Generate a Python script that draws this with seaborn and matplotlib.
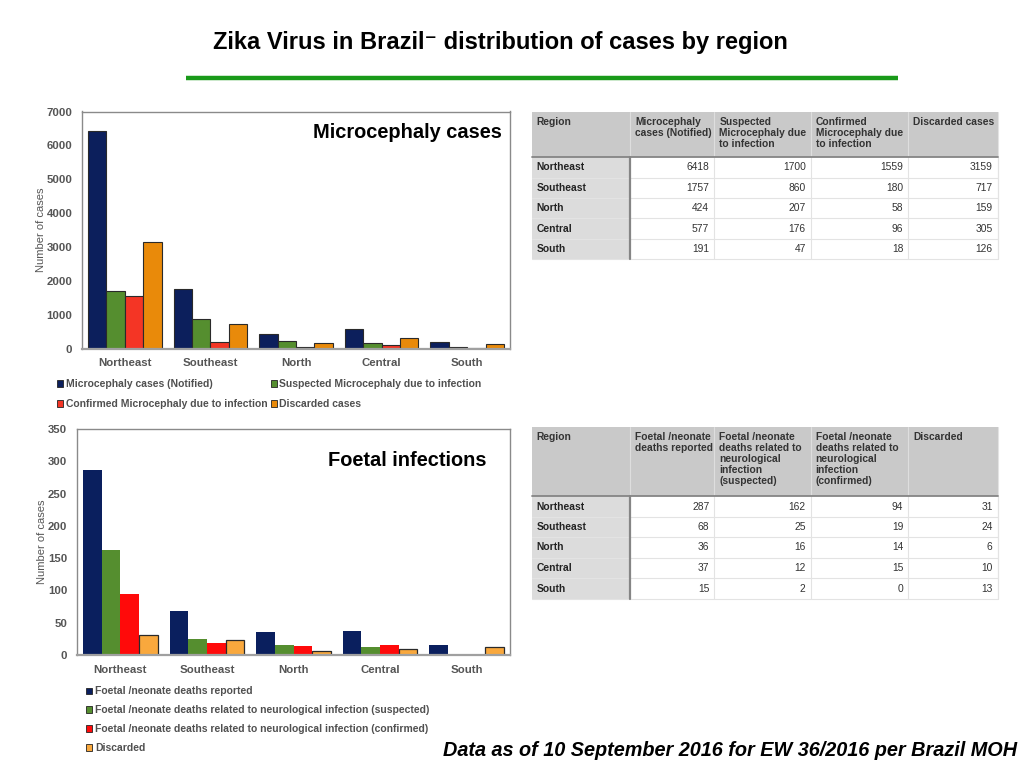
import matplotlib
matplotlib.use('Agg')
import numpy as np
import pandas as pd
import seaborn as sns
import matplotlib.pyplot as plt
from matplotlib.patches import Patch, Rectangle
from matplotlib import font_manager as fm

# ---------------- data ----------------
regions = ['Northeast', 'Southeast', 'North', 'Central', 'South']

micro_series = ['Microcephaly cases (Notified)',
                'Suspected Microcephaly due to infection',
                'Confirmed Microcephaly due to infection',
                'Discarded cases']
micro_notified = [6418, 1757, 424, 577, 191]
micro_suspected = [1700, 860, 207, 176, 47]
micro_confirmed = [1559, 180, 58, 96, 18]
micro_discarded = [3159, 717, 159, 305, 126]

foetal_series = ['Foetal /neonate deaths reported',
                 'Foetal /neonate deaths related to neurological infection (suspected)',
                 'Foetal /neonate deaths related to neurological infection (confirmed)',
                 'Discarded']
foetal_reported = [287, 68, 36, 37, 15]
foetal_suspected = [162, 25, 16, 12, 2]
foetal_confirmed = [94, 19, 14, 15, 0]
foetal_discarded = [31, 24, 6, 10, 13]

micro_headers = ['Region', 'Microcephaly\ncases (Notified)', 'Suspected\nMicrocephaly due\nto infection',
                 'Confirmed\nMicrocephaly due\nto infection', 'Discarded cases']
foetal_headers = ['Region', 'Foetal /neonate\ndeaths reported',
                  'Foetal /neonate\ndeaths related to\nneurological\ninfection\n(suspected)',
                  'Foetal /neonate\ndeaths related to\nneurological\ninfection\n(confirmed)',
                  'Discarded']

micro_colors = ['#0c1f5c', '#558e2f', '#f43525', '#e98a0a']
foetal_colors = ['#0a1f5e', '#558e2f', '#ff0a0a', '#f9a83d']

title_text = 'Zika Virus in Brazil\u207b distribution of cases by region'
footer_text = 'Data as of 10 September 2016 for EW 36/2016 per Brazil MOH'

# ---------------- style ----------------
sns.set_style('white')
plt.rcParams['font.family'] = ['Liberation Sans', 'DejaVu Sans']

def has_font(name):
    try:
        path = fm.findfont(fm.FontProperties(family=name), fallback_to_default=False)
        return 'arrow' in path.lower()
    except Exception:
        return False

narrow = has_font('Liberation Sans Narrow')

W, H = 1024, 768
fig = plt.figure(figsize=(W / 100, H / 100), dpi=100)
fig.patch.set_facecolor('white')

def px_rect(l, t, r, b):
    return [l / W, 1 - b / H, (r - l) / W, (b - t) / H]

def long_df(series, cols):
    rows = []
    for s, vals in zip(series, cols):
        for reg, v in zip(regions, vals):
            rows.append({'Region': reg, 'Series': s, 'Cases': v})
    return pd.DataFrame(rows)

TICK_C = '#555555'

def bar_chart(rect, df, series, colors, ymax, ystep, edge_idx, edge_lw, ylabel_x):
    ax = fig.add_axes(px_rect(*rect))
    sns.barplot(data=df, x='Region', y='Cases', hue='Series', order=regions,
                hue_order=series, palette=colors, width=0.86, gap=0,
                saturation=1, errorbar=None, legend=False, ax=ax)
    for i, cont in enumerate(ax.containers):
        for bar in cont:
            if i in edge_idx:
                bar.set_edgecolor('#2a2a2a')
                bar.set_linewidth(edge_lw)
            else:
                bar.set_linewidth(0)
    ax.set_xlim(-0.5, 4.5)
    ax.set_ylim(0, ymax)
    ax.set_yticks(np.arange(0, ymax + 1, ystep))
    ax.set_xlabel('')
    ax.set_ylabel('Number of cases', fontsize=8, color='#555555')
    ax.yaxis.set_label_coords(ylabel_x, 0.5)
    ax.tick_params(axis='both', length=0, colors=TICK_C, labelsize=8.2)
    ax.tick_params(axis='y', pad=7)
    ax.tick_params(axis='x', pad=7)
    for lab in ax.get_xticklabels() + ax.get_yticklabels():
        lab.set_fontweight('bold')
    for sp in ax.spines.values():
        sp.set_color('#8a8a8a')
        sp.set_linewidth(1.0)
    ax.spines['bottom'].set_color('#a0a0a0')
    ax.spines['bottom'].set_linewidth(1.6)
    return ax

df_micro = long_df(micro_series, [micro_notified, micro_suspected, micro_confirmed, micro_discarded])
df_foetal = long_df(foetal_series, [foetal_reported, foetal_suspected, foetal_confirmed, foetal_discarded])

ax1 = bar_chart((82, 111.5, 510, 348.5), df_micro, micro_series, micro_colors, 7000, 1000,
                edge_idx=[0, 1, 2, 3], edge_lw=0.8, ylabel_x=-0.083)
ax2 = bar_chart((77, 429, 510, 655), df_foetal, foetal_series, foetal_colors, 350, 50,
                edge_idx=[3], edge_lw=0.9, ylabel_x=-0.070)

# legends
def make_handles(colors):
    return [Patch(facecolor=c, edgecolor='#222222', linewidth=0.6) for c in colors]

h1 = make_handles(micro_colors)
order = [0, 2, 1, 3]
leg1 = fig.legend([h1[i] for i in order], [micro_series[i] for i in order],
                  loc='upper left', bbox_to_anchor=(57 / W, 1 - 379 / H), ncol=2,
                  frameon=False, prop={'size': 7.5, 'weight': 'bold'}, labelcolor='#505050',
                  handlelength=0.6, handleheight=0.6, handletextpad=0.25,
                  columnspacing=0.3, labelspacing=0.95, borderpad=0, borderaxespad=0)

h2 = make_handles(foetal_colors)
leg2 = fig.legend(h2, foetal_series,
                  loc='upper left', bbox_to_anchor=(86 / W, 1 - 686.5 / H), ncol=1,
                  frameon=False, prop={'size': 7.5, 'weight': 'bold'}, labelcolor='#505050',
                  handlelength=0.6, handleheight=0.6, handletextpad=0.25,
                  labelspacing=0.85, borderpad=0, borderaxespad=0)

# ---------------- overlay (pixel coordinates) ----------------
ov = fig.add_axes([0, 0, 1, 1])
ov.set_xlim(0, W)
ov.set_ylim(H, 0)
ov.axis('off')
ov.patch.set_visible(False)

# title
if narrow:
    ov.text(500, 42, title_text, ha='center', va='center', fontsize=17.5,
            fontweight='bold', family=['Liberation Sans Narrow', 'DejaVu Sans'], color='black')
else:
    ov.text(500, 42, title_text, ha='center', va='center', fontsize=17,
            fontweight='bold', family=['Liberation Sans', 'DejaVu Sans'], color='black')
ov.plot([186, 898], [78, 78], color='#1a9a1a', lw=3.2, solid_capstyle='butt')

# inner titles
ov.text(502, 133, 'Microcephaly cases', ha='right', va='center', fontsize=14.4,
        fontweight='bold', color='black')
ov.text(487, 460, 'Foetal infections', ha='right', va='center', fontsize=14.4,
        fontweight='bold', color='black')

# footer
ov.text(443, 750, footer_text, ha='left', va='center', fontsize=14.3,
        fontweight='bold', style='italic', color='black')

# tables
col_edges = [531.7, 630, 714.3, 810.7, 908.3, 997.7]

def draw_table(top, header_bottom, row_lines, headers, data_cols):
    left, right = col_edges[0], col_edges[-1]
    bottom = row_lines[-1]
    ov.add_patch(Rectangle((left, top), right - left, header_bottom - top,
                           facecolor='#c9c9c9', edgecolor='none'))
    ov.add_patch(Rectangle((left, header_bottom), col_edges[1] - left, bottom - header_bottom,
                           facecolor='#dcdcdc', edgecolor='none'))
    for x in col_edges[1:-1]:
        ov.plot([x, x], [top, header_bottom], color='#dedede', lw=0.8)
    ys = [header_bottom] + row_lines
    for y in ys[1:]:
        ov.plot([left, right], [y, y], color='#e3e3e3', lw=0.8)
    for x in col_edges[2:]:
        ov.plot([x, x], [header_bottom, bottom], color='#e3e3e3', lw=0.8)
    ov.plot([right, right], [top, bottom], color='#e3e3e3', lw=0.8)
    ov.plot([left, right], [header_bottom, header_bottom], color='#858585', lw=1.3)
    ov.plot([col_edges[1], col_edges[1]], [header_bottom, bottom], color='#858585', lw=1.6)
    for j, htxt in enumerate(headers):
        ov.text(col_edges[j] + 5, top + 4.5, htxt, ha='left', va='top', fontsize=7.4,
                fontweight='bold', color='#333333', linespacing=1.12)
    for i, reg in enumerate(regions):
        yc = (ys[i] + ys[i + 1]) / 2
        ov.text(col_edges[0] + 5, yc, reg, ha='left', va='center', fontsize=7.4,
                fontweight='bold', color='#222222')
        for j, col in enumerate(data_cols):
            ov.text(col_edges[j + 2] - 5, yc, str(col[i]), ha='right', va='center',
                    fontsize=7.4, color='#333333')

draw_table(112.3, 157.3, [177.7, 198.3, 218.3, 239, 259.3], micro_headers,
           [micro_notified, micro_suspected, micro_confirmed, micro_discarded])
draw_table(427.3, 496, [517.3, 537.3, 557.7, 578.3, 599], foetal_headers,
           [foetal_reported, foetal_suspected, foetal_confirmed, foetal_discarded])

fig.savefig('out.png', dpi=100, facecolor='white')
